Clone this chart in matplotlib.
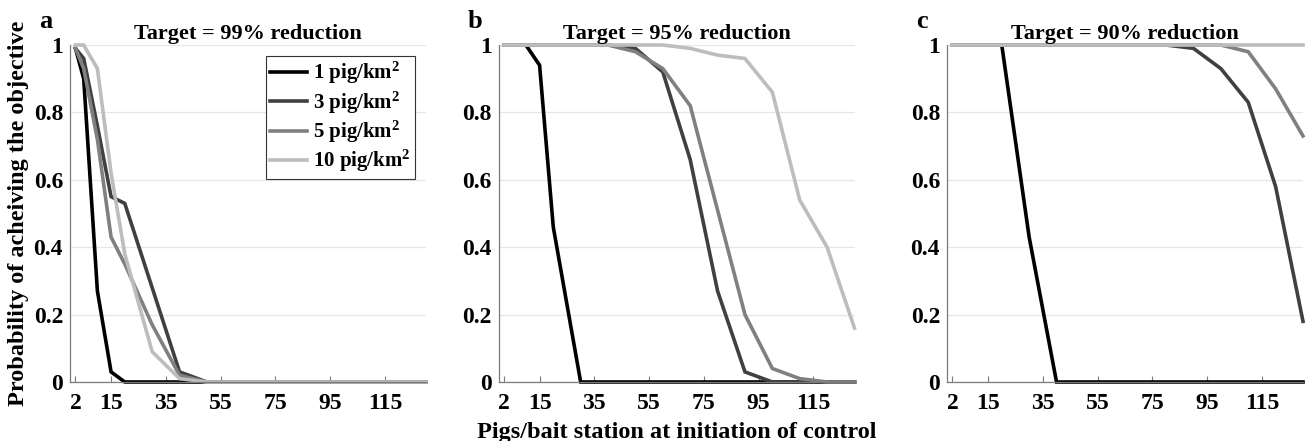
import matplotlib
matplotlib.use("Agg")
import matplotlib.pyplot as plt

plt.rcParams["font.family"] = ["Liberation Serif", "DejaVu Serif"]
plt.rcParams["font.weight"] = "bold"
plt.rcParams["mathtext.fontset"] = "custom"
plt.rcParams["mathtext.rm"] = "Liberation Serif:bold"
plt.rcParams["mathtext.it"] = "Liberation Serif:bold"
plt.rcParams["mathtext.bf"] = "Liberation Serif:bold"
plt.rcParams["mathtext.default"] = "rm"

# pigs per bait station at initiation of control
x_vals = [2, 5, 10, 15, 20, 30, 40, 50, 60, 70, 80, 90, 100, 110, 120, 130]

densities = ["1 pig/km$^2$", "3 pig/km$^2$", "5 pig/km$^2$", "10 pig/km$^2$"]
colors = ["#000000", "#404040", "#808080", "#bdbdbd"]

# target = 99% reduction
a_1 = [0.99, 0.90, 0.27, 0.03, 0, 0, 0, 0, 0, 0, 0, 0, 0, 0, 0, 0]
a_3 = [0.99, 0.96, 0.76, 0.55, 0.53, 0.28, 0.03, 0, 0, 0, 0, 0, 0, 0, 0, 0]
a_5 = [0.99, 0.93, 0.72, 0.43, 0.35, 0.17, 0.02, 0, 0, 0, 0, 0, 0, 0, 0, 0]
a_10 = [1.0, 1.0, 0.93, 0.62, 0.38, 0.09, 0.01, 0, 0, 0, 0, 0, 0, 0, 0, 0]

# target = 95% reduction
b_1 = [1, 1, 1, 0.94, 0.46, 0, 0, 0, 0, 0, 0, 0, 0, 0, 0, 0]
b_3 = [1, 1, 1, 1, 1, 1, 1, 0.99, 0.92, 0.66, 0.27, 0.03, 0, 0, 0, 0]
b_5 = [1, 1, 1, 1, 1, 1, 1, 0.98, 0.93, 0.82, 0.51, 0.20, 0.04, 0.01, 0, 0]
b_10 = [1, 1, 1, 1, 1, 1, 1, 1, 1, 0.99, 0.97, 0.96, 0.86, 0.54, 0.40, 0.16]

# target = 90% reduction
c_1 = [1, 1, 1, 1, 1, 0.43, 0, 0, 0, 0, 0, 0, 0, 0, 0, 0]
c_3 = [1, 1, 1, 1, 1, 1, 1, 1, 1, 1, 1, 0.99, 0.93, 0.83, 0.58, 0.18]
c_5 = [1, 1, 1, 1, 1, 1, 1, 1, 1, 1, 1, 1, 1, 0.98, 0.87, 0.73]
c_10 = [1, 1, 1, 1, 1, 1, 1, 1, 1, 1, 1, 1, 1, 1, 1, 1]

panels = [
    ("a", "Target = 99% reduction", [a_1, a_3, a_5, a_10]),
    ("b", "Target = 95% reduction", [b_1, b_3, b_5, b_10]),
    ("c", "Target = 90% reduction", [c_1, c_3, c_5, c_10]),
]

x_ticks = [2, 15, 35, 55, 75, 95, 115]
y_ticks = [0, 0.2, 0.4, 0.6, 0.8, 1]
y_ticklabels = ["0", "0.2", "0.4", "0.6", "0.8", "1"]

fig = plt.figure(figsize=(13.07, 4.41), dpi=100)
lefts = [70, 498.5, 947]
W, H = 1307.0, 441.0

axes = []
for left, (letter, title, series) in zip(lefts, panels):
    ax = fig.add_axes([left / W, 59 / H, 356 / W, 337 / H])
    for ys, lab, col in zip(series, densities, colors):
        ax.plot(x_vals, ys, color=col, lw=2.6, label=lab, clip_on=False,
                solid_joinstyle="miter")
    ax.set_xlim(0, 130)
    ax.set_ylim(0, 1)
    ax.set_xticks(x_ticks)
    ax.set_yticks(y_ticks)
    ax.set_yticklabels(y_ticklabels)
    ax.grid(axis="y", color="#e6e6e6", lw=0.9)
    ax.set_axisbelow(True)
    for s in ["top", "right"]:
        ax.spines[s].set_visible(False)
    for s in ["left", "bottom"]:
        ax.spines[s].set_color("#7a7a7a")
        ax.spines[s].set_linewidth(0.9)
    ax.tick_params(direction="in", length=4, color="#7a7a7a", labelsize=17,
                   pad=8)
    ax.tick_params(axis="y", length=0, pad=5)
    for lbl in ax.get_xticklabels() + ax.get_yticklabels():
        lbl.set_fontweight("bold")
    ax.set_title(title, fontsize=16, fontweight="bold", pad=4)
    fig.text((left - 31) / W, 1 - 28 / H, letter, fontsize=19,
             fontweight="bold")
    axes.append(ax)

axes[0].set_ylabel("Probability of acheiving the objective", fontsize=17.5,
                   fontweight="bold", labelpad=3)
axes[1].set_xlabel("Pigs/bait station at initiation of control", fontsize=17.5,
                   fontweight="bold", labelpad=6)

leg = axes[0].legend(loc="upper right", bbox_to_anchor=(0.97, 0.967),
                     fontsize=15, handlelength=1.8, handletextpad=0.3,
                     borderpad=0.2, borderaxespad=0.0, labelspacing=0.15,
                     fancybox=False, framealpha=1)
leg.get_frame().set_edgecolor("#333333")
leg.get_frame().set_linewidth(0.8)

fig.savefig("out.png", dpi=100)
